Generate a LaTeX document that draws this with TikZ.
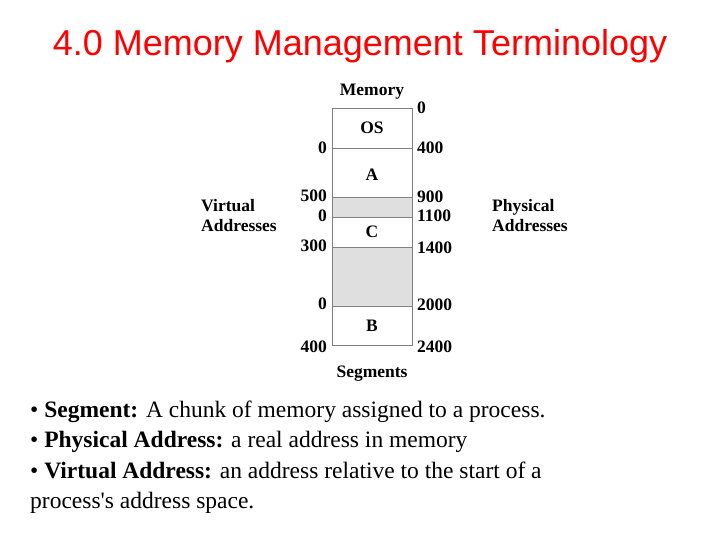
\documentclass[tikz,border=0pt]{standalone}
\usepackage{fontspec}
\setmainfont{Liberation Serif}
\newfontfamily\titlefont{Liberation Sans}
\begin{document}
\begin{tikzpicture}[x=1pt,y=-1pt,
    seg/.style={draw=gray,line width=0.8pt},
    lbl/.style={inner sep=0pt,font=\fontsize{17.5}{20}\selectfont\bfseries},
    txt/.style={inner sep=0pt,anchor=base west,font=\fontsize{23.5}{20}\selectfont}]
  \useasboundingbox (0,0) rectangle (720,540);
  \node (title) [inner sep=0pt,text=red,font=\titlefont\fontsize{36}{36}\selectfont] at (360,46) {4.0 Memory Management Terminology};
  % memory column
  \fill [gray!25] (332,197) rectangle (412,217);
  \fill [gray!25] (332,247) rectangle (412,306);
  \draw [seg] (332,108) rectangle (412,345);
  \foreach \y in {148,197,217,247,306}
    \draw [seg] (332,\y) -- (412,\y);
  \node (os) [lbl] at (372,128) {OS};
  \node (a) [lbl] at (372,175) {A};
  \node (c) [lbl] at (372,232) {C};
  \node (b) [lbl] at (372,326) {B};
  \node (mem) [lbl] at (372,92) {Memory};
  \node (segs) [lbl] at (372,374) {Segments};
  % physical addresses
  \foreach \y/\t in {108/0,148/400,197/900,216/1100,248/1400,305/2000,347/2400}
    \node [lbl,anchor=west] at (417,\y) {\t};
  % virtual addresses
  \foreach \y/\t in {148/0,196/500,216/0,246/300,304/0,347/400}
    \node [lbl,anchor=east] at (327,\y) {\t};
  \node (virt) [lbl,align=left,anchor=west] at (201,216) {Virtual\\Addresses};
  \node (phys) [lbl,align=left,anchor=west] at (492,216) {Physical\\Addresses};
  % definitions
  \node [txt] at (30,417) {\textbullet\ \textbf{Segment:} A chunk of memory assigned to a process.};
  \node [txt] at (30,447) {\textbullet\ \textbf{Physical Address:} a real address in memory};
  \node [txt] at (30,478) {\textbullet\ \textbf{Virtual Address:} an address relative to the start of a};
  \node [txt] at (30,508) {process\textquotesingle s address space.};
\end{tikzpicture}
\end{document}
